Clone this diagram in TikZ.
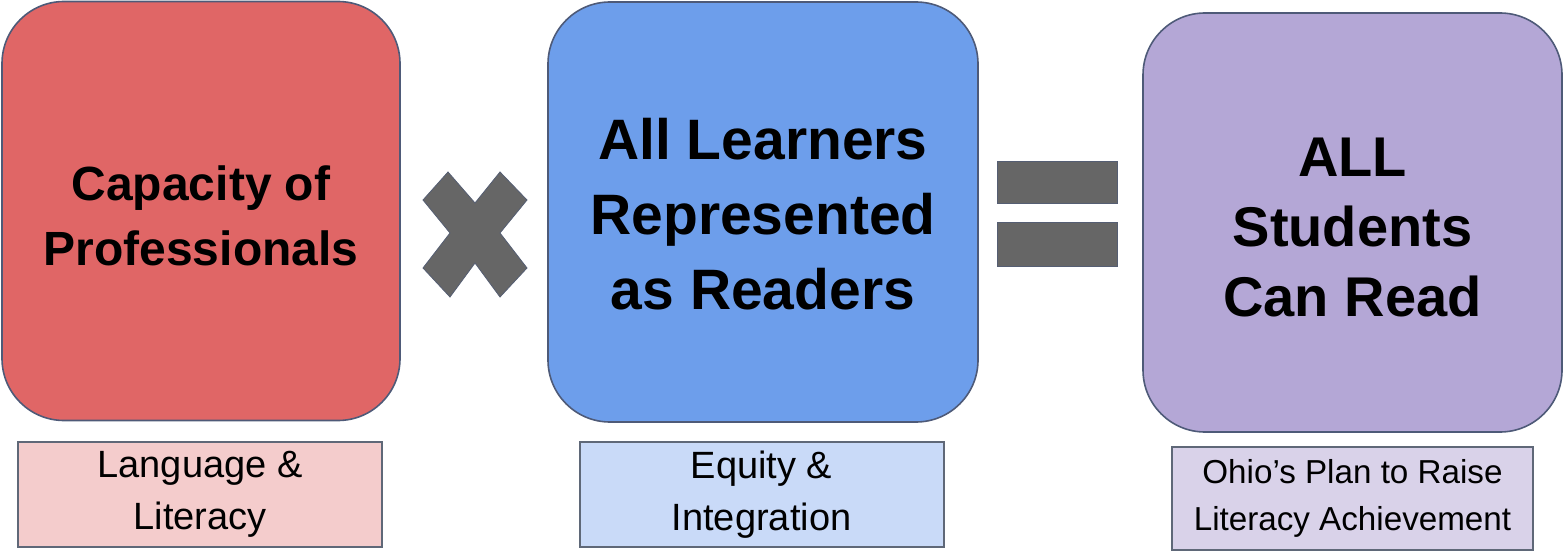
\documentclass[tikz,border=0pt]{standalone}
\usepackage{fontspec}
\setmainfont{Liberation Sans}
\definecolor{redfill}{HTML}{E06666}
\definecolor{bluefill}{HTML}{6D9EEB}
\definecolor{purplefill}{HTML}{B4A7D6}
\definecolor{redlight}{HTML}{F4CCCC}
\definecolor{bluelight}{HTML}{C9DAF8}
\definecolor{purplelight}{HTML}{D9D2E9}
\definecolor{edgecol}{HTML}{4E5A78}
\definecolor{labeledge}{HTML}{5F6878}
\definecolor{opgray}{HTML}{666666}
\tikzset{
  mainbox/.style={draw=edgecol, line width=0.8pt, rounded corners=31pt, inner sep=0pt,
    align=center, font=\bfseries\fontsize{24}{32.5}\selectfont},
  labelbox/.style={draw=labeledge, line width=1pt, inner sep=0pt, align=center,
    minimum width=182pt, minimum height=52.5pt, font=\fontsize{19}{26}\selectfont},
  opshape/.style={fill=opgray, draw=edgecol!70!opgray, line width=0.4pt},
}
\begin{document}
\begin{tikzpicture}[x=0.5pt, y=-0.5pt]
\useasboundingbox (0,0) rectangle (1564,551);
% main boxes
\node[mainbox, fill=redfill, minimum width=199pt, minimum height=209.5pt] (cap) at (201,211) {};
\node[font=\bfseries\fontsize{24}{32.5}\selectfont, align=center] (captext) at (201,216) {Capacity of\\Professionals};
\node[mainbox, fill=bluefill, minimum width=215pt, minimum height=210pt] (all) at (763,212) {};
\node[font=\bfseries\fontsize{28.5}{37.5}\selectfont, align=center] (alltext) at (763,214) {All Learners\\Represented\\as Readers};
\node[mainbox, fill=purplefill, minimum width=209.5pt, minimum height=209.5pt] (stu) at (1352.5,222.5) {};
\node[font=\bfseries\fontsize{28}{35}\selectfont, align=center] (stutext) at (1352.5,228) {ALL\\Students\\Can Read};
% label boxes
\node[labelbox, fill=redlight] (lang) at (200,494.5) {Language \&\\Literacy};
\node[labelbox, fill=bluelight] (equ) at (761.5,494.5) {Equity \&\\Integration};
\node[labelbox, fill=purplelight, minimum width=180.5pt, minimum height=51.5pt,
  font=\fontsize{16.6}{23.5}\selectfont] (ohio) at (1352.5,498.5) {Ohio’s Plan to Raise\\Literacy Achievement};
% multiplication sign
\draw[opshape] (448,172) -- (475,203) -- (500,172) -- (527,200) -- (500,233) -- (527,268)
  -- (500,297) -- (475,263) -- (450,297) -- (423,268) -- (450,233) -- (423,200) -- cycle;
% equals sign
\node[opshape, rectangle, inner sep=0pt, minimum width=60pt, minimum height=21pt] (eqtop) at (1057,182) {};
\node[opshape, rectangle, inner sep=0pt, minimum width=60pt, minimum height=22pt] (eqbot) at (1057,244) {};
\end{tikzpicture}
\end{document}
